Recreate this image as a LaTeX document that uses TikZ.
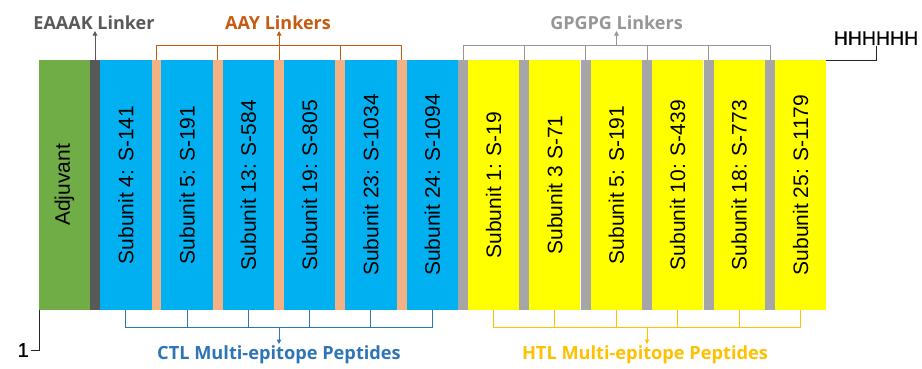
\documentclass[tikz,border=0pt]{standalone}
\usepackage{fontspec}
\setmainfont{Liberation Sans}
\newfontfamily\headfont{Open Sans}
\newfontfamily\endfont[FakeBold=0.8]{Liberation Sans}
\usetikzlibrary{arrows.meta}

\definecolor{adjgreen}{RGB}{112,173,71}
\definecolor{eaaakfill}{RGB}{89,89,89}
\definecolor{ctlblue}{RGB}{0,176,240}
\definecolor{aayfill}{RGB}{244,177,131}
\definecolor{gpgfill}{RGB}{166,166,166}
\definecolor{htlfill}{RGB}{255,255,0}
\definecolor{aaytext}{RGB}{197,90,17}
\definecolor{ctltext}{RGB}{46,117,182}
\definecolor{gpgtext}{RGB}{150,150,150}
\definecolor{htltext}{RGB}{255,192,0}

\tikzset{
	seg/.style={inner sep=0pt, outer sep=0pt, minimum height=250pt},
	ctlseg/.style={seg, fill=ctlblue, minimum width=51.5pt},
	aayseg/.style={seg, fill=aayfill, minimum width=10pt},
	gpgseg/.style={seg, fill=gpgfill, minimum width=10pt},
	htlseg/.style={seg, fill=htlfill, minimum width=51pt},
	sublbl/.style={rotate=90, inner sep=0pt, font=\fontsize{21}{25}\selectfont},
	toplbl/.style={anchor=south, inner sep=1.5pt, font=\headfont\bfseries\fontsize{18}{21}\selectfont},
	botlbl/.style={anchor=north, inner sep=1.5pt, font=\headfont\bfseries\fontsize{18.2}{22}\selectfont},
	brk/.style={line width=1pt},
	ptr/.style={-{Triangle[length=4.5pt,width=4.5pt]}}
}

\begin{document}
\begin{tikzpicture}[x=1pt, y=-1pt]
		%%%%% START %%%%%
		\useasboundingbox (0, 0) rectangle (922, 368);
		
		\node[seg, fill=adjgreen, minimum width=51pt] (adj) at (64.5, 185) {};
		\node[sublbl] (adjtxt) at (adj) {Adjuvant};
		\node[seg, fill=eaaakfill, minimum width=10pt] (eaaak) at (95, 185) {};
		
		\node[ctlseg] (ctl1) at (125.75, 185) {};
		\node[aayseg] (aay1) at (156.5, 185) {};
		\node[ctlseg] (ctl2) at (187.05, 185) {};
		\node[aayseg] (aay2) at (217.8, 185) {};
		\node[ctlseg] (ctl3) at (248.35, 185) {};
		\node[aayseg] (aay3) at (279.1, 185) {};
		\node[ctlseg] (ctl4) at (309.65, 185) {};
		\node[aayseg] (aay4) at (340.4, 185) {};
		\node[ctlseg] (ctl5) at (370.95, 185) {};
		\node[aayseg] (aay5) at (401.7, 185) {};
		\node[ctlseg] (ctl6) at (432.25, 185) {};
		
		\node[gpgseg] (gpg1) at (463, 185) {};
		\node[htlseg] (htl1) at (493.5, 185) {};
		\node[gpgseg] (gpg2) at (524.4, 185) {};
		\node[htlseg] (htl2) at (554.9, 185) {};
		\node[gpgseg] (gpg3) at (585.8, 185) {};
		\node[htlseg] (htl3) at (616.3, 185) {};
		\node[gpgseg] (gpg4) at (647.2, 185) {};
		\node[htlseg] (htl4) at (677.7, 185) {};
		\node[gpgseg] (gpg5) at (708.6, 185) {};
		\node[htlseg] (htl5) at (739.1, 185) {};
		\node[gpgseg] (gpg6) at (770, 185) {};
		\node[htlseg] (htl6) at (800.5, 185) {};
		
		\node[sublbl] (ctl1txt) at (ctl1) {Subunit 4: S-141};
		\node[sublbl] (ctl2txt) at (ctl2) {Subunit 5: S-191};
		\node[sublbl] (ctl3txt) at (ctl3) {Subunit 13: S-584};
		\node[sublbl] (ctl4txt) at (ctl4) {Subunit 19: S-805};
		\node[sublbl] (ctl5txt) at (ctl5) {Subunit 23: S-1034};
		\node[sublbl] (ctl6txt) at (ctl6) {Subunit 24: S-1094};
		\node[sublbl] (htl1txt) at (htl1) {Subunit 1: S-19};
		\node[sublbl] (htl2txt) at (htl2) {Subunit 3 S-71};
		\node[sublbl] (htl3txt) at (htl3) {Subunit 5: S-191};
		\node[sublbl] (htl4txt) at (htl4) {Subunit 10: S-439};
		\node[sublbl] (htl5txt) at (htl5) {Subunit 18: S-773};
		\node[sublbl] (htl6txt) at (htl6) {Subunit 25: S-1179};
		
		% linker labels above the chain
		\node[toplbl, text=eaaakfill] (eaaaklbl) at (94, 31) {EAAAK Linker};
		\draw[brk, eaaakfill, ptr] (eaaak.north) -- (eaaak.north |- eaaaklbl.south);
		
		\coordinate (aaybar) at (279.1, 45);
		\node[toplbl, text=aaytext] (aaylbl) at (278, 31) {AAY Linkers};
		\draw[brk, aaytext] (aay1.north) -- (aay1.north |- aaybar) -- (aay5.north |- aaybar) -- (aay5.north);
		\draw[brk, aaytext] (aay2.north) -- (aay2.north |- aaybar);
		\draw[brk, aaytext] (aay3.north) -- (aay3.north |- aaybar);
		\draw[brk, aaytext] (aay4.north) -- (aay4.north |- aaybar);
		\draw[brk, aaytext, ptr] (aaybar) -- (aaybar |- aaylbl.south);
		
		\coordinate (gpgbar) at (616.5, 45);
		\node[toplbl, text=gpgtext] (gpglbl) at (616.5, 31) {GPGPG Linkers};
		\draw[brk, gpgtext] (gpg1.north) -- (gpg1.north |- gpgbar) -- (gpg6.north |- gpgbar) -- (gpg6.north);
		\draw[brk, gpgtext] (gpg2.north) -- (gpg2.north |- gpgbar);
		\draw[brk, gpgtext] (gpg3.north) -- (gpg3.north |- gpgbar);
		\draw[brk, gpgtext] (gpg4.north) -- (gpg4.north |- gpgbar);
		\draw[brk, gpgtext] (gpg5.north) -- (gpg5.north |- gpgbar);
		\draw[brk, gpgtext, ptr] (gpgbar) -- (gpglbl.south);
		
		% epitope groups below the chain
		\coordinate (ctlbar) at (279, 327);
		\node[botlbl, text=ctltext] (ctllbl) at (279, 344) {CTL Multi-epitope Peptides};
		\draw[brk, ctltext] (ctl1.south) -- (ctl1.south |- ctlbar) -- (ctl6.south |- ctlbar) -- (ctl6.south);
		\draw[brk, ctltext] (ctl2.south) -- (ctl2.south |- ctlbar);
		\draw[brk, ctltext] (ctl3.south) -- (ctl3.south |- ctlbar);
		\draw[brk, ctltext] (ctl4.south) -- (ctl4.south |- ctlbar);
		\draw[brk, ctltext] (ctl5.south) -- (ctl5.south |- ctlbar);
		\draw[brk, ctltext, ptr] (ctlbar) -- (ctllbl.north);
		
		\coordinate (htlbar) at (647, 327);
		\node[botlbl, text=htltext] (htllbl) at (645, 344) {HTL Multi-epitope Peptides};
		\draw[brk, htltext] (htl1.south) -- (htl1.south |- ctlbar) -- (htl6.south |- ctlbar) -- (htl6.south);
		\draw[brk, htltext] (htl2.south) -- (htl2.south |- htlbar);
		\draw[brk, htltext] (htl3.south) -- (htl3.south |- htlbar);
		\draw[brk, htltext] (htl4.south) -- (htl4.south |- htlbar);
		\draw[brk, htltext] (htl5.south) -- (htl5.south |- htlbar);
		\draw[brk, htltext, ptr] (htlbar) -- (htlbar |- htllbl.north);
		
		% chain ends
		\node[anchor=east, inner sep=2pt, font=\endfont\fontsize{20}{24}\selectfont] (nterm) at (31, 350) {1};
		\draw[line width=0.9pt, black!85] (adj.south west) |- (nterm.east);
		\node[anchor=south, inner sep=1pt, font=\endfont\fontsize{19.5}{23}\selectfont] (cterm) at (876, 46) {HHHHHH};
		\draw[line width=0.9pt, black!85] (htl6.north east) -| (cterm.south);
		
		%%%%% END %%%%%
\end{tikzpicture}
\end{document}
